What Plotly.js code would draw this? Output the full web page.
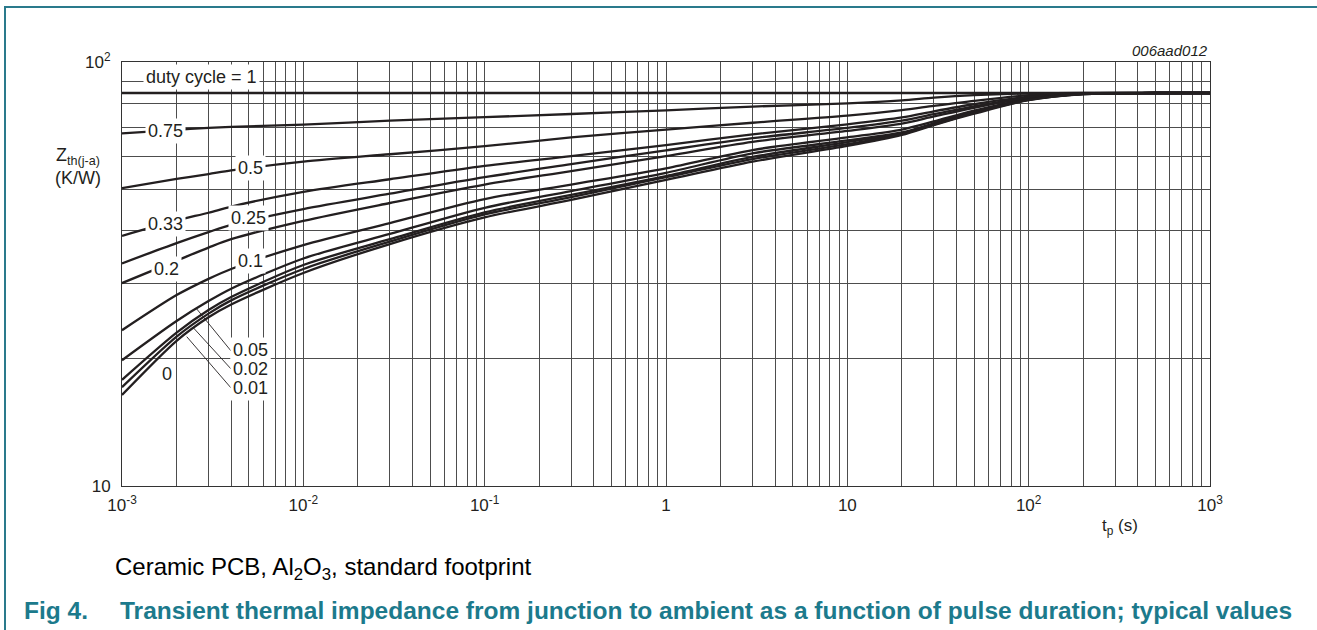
<!DOCTYPE html>
<html>
<head>
<meta charset="utf-8">
<script src="https://cdn.plot.ly/plotly-3.0.1.min.js"></script>
<style>
html,body{margin:0;padding:0;background:#fff;}
#wrap{position:relative;width:1317px;height:630px;overflow:hidden;background:#fff;}
#chart{position:absolute;left:0;top:0;width:1317px;height:630px;}
.frameTop{position:absolute;left:4px;top:6px;width:1313px;height:2px;background:#2a7a8c;}
.frameLeft{position:absolute;left:4px;top:6px;width:2px;height:624px;background:#2a7a8c;}
</style>
</head>
<body>
<div id="wrap"><div id="chart"></div><div class="frameTop"></div><div class="frameLeft"></div></div>
<script>
// ---- data ----
const tp = [1e-3, 2e-3, 3e-3, 4e-3, 1e-2, 3e-2, 0.1, 0.3, 1, 3, 10, 20, 30, 50, 100, 200, 500, 1000];
const dutyLabels = ['1', '0.75', '0.5', '0.33', '0.25', '0.2', '0.1', '0.05', '0.02', '0.01', '0'];
const zth_1    = [84.5,84.5,84.5,84.5,84.5,84.5,84.5,84.5,84.5,84.5,84.5,84.5,84.5,84.5,84.5,84.5,84.5,84.5];
const zth_075  = [67.9,69.2,69.9,70.3,71.2,72.7,74.1,75.4,76.9,78.5,79.9,81.2,82.4,83.5,84.3,84.5,84.5,84.5];
const zth_05   = [50.4,53.0,54.4,55.5,58.2,60.6,63.3,66.4,69.3,71.9,74.7,77.0,78.8,81.0,83.5,84.4,84.5,84.5];
const zth_033  = [38.9,42.3,44.1,45.6,49.4,52.9,56.9,60.0,63.7,67.5,71.3,74.0,76.5,79.5,82.8,84.3,84.5,84.5];
const zth_025  = [33.5,37.4,39.7,41.3,45.0,48.9,53.5,57.4,61.9,66.1,69.9,72.7,75.3,78.6,82.5,84.2,84.5,84.5];
const zth_02   = [30.1,34.0,36.5,38.2,42.2,46.5,51.4,55.3,60.0,64.8,68.8,71.6,74.4,78.0,82.2,84.2,84.5,84.5];
const zth_01   = [23.3,28.2,30.8,32.5,37.0,41.7,47.5,51.4,56.1,62.0,66.4,69.3,72.4,76.8,81.8,84.1,84.5,84.5];
const zth_005  = [19.8,24.5,27.3,29.2,34.4,39.3,45.3,49.6,54.8,60.9,65.3,68.2,71.7,76.3,81.6,84.1,84.5,84.5];
const zth_002  = [17.8,23.0,26.0,27.9,33.2,38.2,44.2,48.6,53.8,59.7,64.7,67.9,71.4,76.1,81.5,84.0,84.5,84.5];
const zth_001  = [17.1,22.5,25.5,27.4,32.5,37.7,43.7,48.0,53.5,59.0,64.0,67.6,71.2,75.9,81.4,84.0,84.5,84.5];
const zth_0    = [16.4,22.0,25.0,26.8,31.8,37.2,43.0,47.3,52.7,58.2,63.4,67.3,71.0,75.5,81.3,84.0,84.5,84.5];
const seriesZ = [zth_1, zth_075, zth_05, zth_033, zth_025, zth_02, zth_01, zth_005, zth_002, zth_001, zth_0];

// tick labels
const xDecades = [1e-3, 1e-2, 1e-1, 1, 10, 100, 1000];
const xDecadeText = ['10<sup>-3</sup>', '10<sup>-2</sup>', '10<sup>-1</sup>', '1', '10', '10<sup>2</sup>', '10<sup>3</sup>'];
const mantissas = [2, 3, 4, 5, 6, 7, 8, 9];
const yMajorVals = [10, 100];
const yMajorText = ['10', '10<sup>2</sup>'];
const yMinorVals = [20, 30, 40, 50, 60, 70, 80, 90];

// ---- build ----
const xMinorVals = [];
xDecades.slice(0, -1).forEach(d => mantissas.forEach(m => xMinorVals.push(m * d)));

const ink = '#231f20';
const traces = seriesZ.map((z, i) => ({
  x: tp, y: z, type: 'scatter', mode: 'lines', name: 'duty cycle = ' + dutyLabels[i],
  line: {color: ink, width: 2.3, shape: 'spline', smoothing: 0.8},
  hoverinfo: 'skip', showlegend: false
}));

const FONT = 'Liberation Sans, Arial, Helvetica, sans-serif';
const lg = Math.log10;
function lab(text, t, z) {
  return {xref: 'x', yref: 'y', x: lg(t), y: lg(z), text: text, showarrow: false,
    bgcolor: '#ffffff', borderpad: 2, font: {family: FONT, size: 18, color: ink}};
}
function leader(t0, z0, t1, z1) {
  return {type: 'line', xref: 'x', yref: 'y', x0: t0, y0: z0, x1: t1, y1: z1,
    line: {color: ink, width: 0.9}, layer: 'above'};
}
const shapes = [
  leader(0.004017, 20.76, 0.002582, 26.16),
  leader(0.004017, 18.83, 0.002455, 23.7),
  leader(0.004017, 16.98, 0.002275, 22.5)
];
const annotations = [
  lab('duty cycle = 1', 0.00276, 92.3),
  lab('0.75', 0.001734, 68.8),
  lab('0.5', 0.00513, 56.2),
  lab('0.33', 0.00174, 41.6),
  lab('0.25', 0.00501, 42.8),
  lab('0.2', 0.00176, 32.5),
  lab('0.1', 0.00508, 34.0),
  lab('0', 0.00176, 18.4),
  lab('0.05', 0.00508, 20.9),
  lab('0.02', 0.00508, 18.9),
  lab('0.01', 0.00508, 17.0),
  {xref: 'paper', yref: 'paper', x: -0.0404, y: 0.753, xanchor: 'center', yanchor: 'middle', showarrow: false,
   text: 'Z<sub>th(j-a)</sub><br>(K/W)', align: 'center', font: {family: FONT, size: 18, color: ink}},
  {xref: 'paper', yref: 'paper', x: 0.9173, y: -0.0967, xanchor: 'center', yanchor: 'middle', showarrow: false,
   text: 't<sub>p</sub> (s)', font: {family: FONT, size: 17, color: ink}},
  {xref: 'paper', yref: 'paper', x: 1.0, y: 1.028, xanchor: 'right', yanchor: 'middle', showarrow: false,
   text: '006aad012', font: {family: FONT, size: 15, color: ink, style: 'italic'}},
  {xref: 'paper', yref: 'paper', x: -0.0083, y: -0.1934, xanchor: 'left', yanchor: 'middle', showarrow: false,
   text: 'Ceramic PCB, Al<sub>2</sub>O<sub>3</sub>, standard footprint', font: {family: FONT, size: 24, color: '#000'}},
  {xref: 'paper', yref: 'paper', x: -0.0919, y: -0.2925, xanchor: 'left', yanchor: 'middle', showarrow: false,
   text: '<b>Fig 4.</b>', font: {family: FONT, size: 24.5, color: '#1c7a8c'}},
  {xref: 'paper', yref: 'paper', x: -0.0037, y: -0.2925, xanchor: 'left', yanchor: 'middle', showarrow: false,
   text: '<b>Transient thermal impedance from junction to ambient as a function of pulse duration; typical values</b>',
   font: {family: FONT, size: 24.5, color: '#1c7a8c'}}
];

const GRID = '#4d4d4d';
const axisCommon = {
  type: 'log', showgrid: true, gridcolor: GRID, gridwidth: 1,
  showline: true, mirror: true, linecolor: '#333', linewidth: 1,
  zeroline: false, ticks: '', fixedrange: true, tickmode: 'array',
  tickfont: {family: FONT, size: 17, color: ink}
};

const layout = {
  width: 1317, height: 630,
  margin: {l: 122, r: 107, t: 62, b: 144},
  paper_bgcolor: 'rgba(0,0,0,0)', plot_bgcolor: '#fff',
  xaxis: Object.assign({}, axisCommon, {range: [-3, 3], tickvals: xDecades, ticktext: xDecadeText, tickangle: 0, ticklabelstandoff: 4,
    minor: {tickmode: 'array', tickvals: xMinorVals, showgrid: true, gridcolor: GRID, gridwidth: 1, ticks: ''}}),
  yaxis: Object.assign({}, axisCommon, {range: [1, 2], tickvals: yMajorVals, ticktext: yMajorText, ticklabelstandoff: 7,
    minor: {tickmode: 'array', tickvals: yMinorVals, showgrid: true, gridcolor: GRID, gridwidth: 1, ticks: ''}}),
  shapes: shapes,
  annotations: annotations,
  showlegend: false,
  hovermode: false
};

Plotly.newPlot('chart', traces, layout, {displayModeBar: false, staticPlot: true});
</script>
</body>
</html>
